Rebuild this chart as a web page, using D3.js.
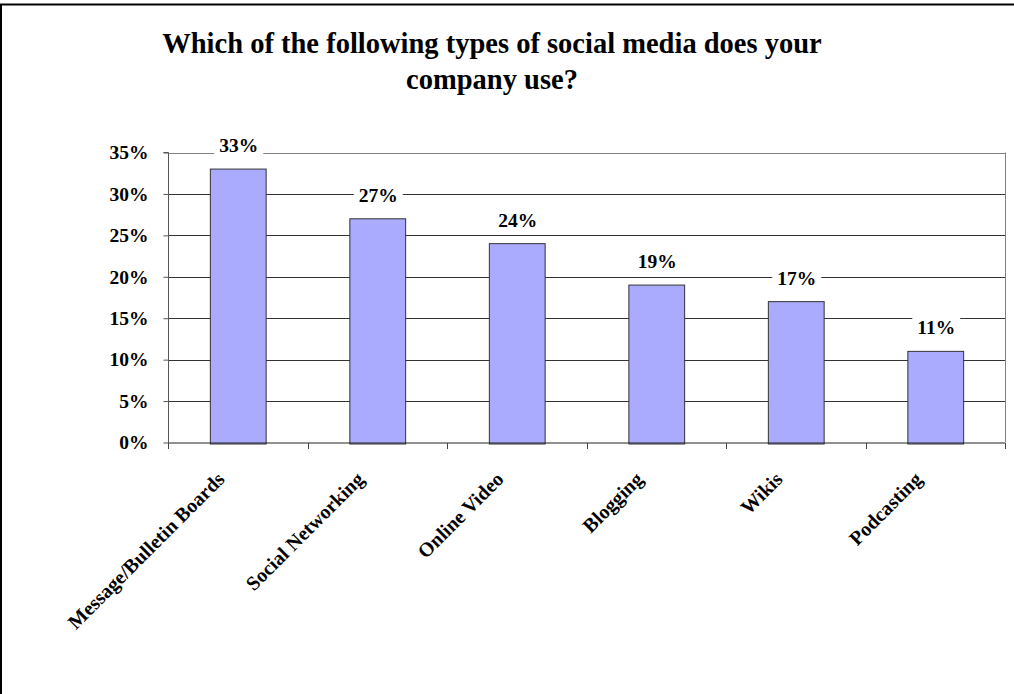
<!DOCTYPE html>
<html>
<head>
<meta charset="utf-8">
<script src="https://cdn.jsdelivr.net/npm/d3@7"></script>
<style>
  html, body { margin: 0; padding: 0; background: #fff; }
  svg { display: block; }
  text { font-family: "Liberation Serif", "Times New Roman", serif; font-weight: bold; fill: #000; }
</style>
</head>
<body>
<svg id="chart" width="1014" height="694"></svg>
<script>
const categories = ["Message/Bulletin Boards", "Social Networking", "Online Video", "Blogging", "Wikis", "Podcasting"];
const values = [33, 27, 24, 19, 17, 11];
const yTicks = [0, 5, 10, 15, 20, 25, 30, 35];
const titleLines = ["Which of the following types of social media does your", "company use?"];

const W = 1014, H = 694;
const svg = d3.select("#chart");
const m = { left: 168, right: 1005, top: 152.5, bottom: 442.5 };

// outer frame (top and left edges visible)
svg.append("line").attr("x1", 0).attr("x2", W).attr("y1", 4.5).attr("y2", 4.5)
  .attr("stroke", "#000").attr("stroke-width", 2);
svg.append("line").attr("x1", 1).attr("x2", 1).attr("y1", 4).attr("y2", H)
  .attr("stroke", "#000").attr("stroke-width", 2);

// title
const title = svg.append("text").attr("text-anchor", "middle").style("font-size", "28.5px");
titleLines.forEach((t, i) => {
  title.append("tspan").attr("x", 492).attr("y", 53 + i * 36).text(t);
});

const x = d3.scaleBand().domain(categories).range([m.left, m.right]).paddingInner(0).paddingOuter(0);
const y = d3.scaleLinear().domain([0, 35]).range([m.bottom, m.top]);

// gridlines
svg.append("g").selectAll("line").data(yTicks.filter(d => d > 0)).join("line")
  .attr("x1", m.left).attr("x2", m.right)
  .attr("y1", d => Math.round(y(d)) + 0.5).attr("y2", d => Math.round(y(d)) + 0.5)
  .attr("stroke", d => d === 35 ? "#808080" : "#333").attr("stroke-width", 1);

// plot area right border
svg.append("line").attr("x1", m.right + 0.5).attr("x2", m.right + 0.5)
  .attr("y1", m.top).attr("y2", m.bottom).attr("stroke", "#808080");

// y axis
const yAxis = d3.axisLeft(y).tickValues(yTicks).tickSize(5).tickPadding(15).tickFormat(d => d + "%");
const gy = svg.append("g").attr("transform", `translate(${m.left + 0.5},0)`).call(yAxis);
gy.select(".domain").attr("stroke", "#555").attr("d", `M-5,${m.top}H0V${m.bottom}`);
gy.selectAll(".tick line").attr("stroke", "#555");
gy.selectAll(".tick text").style("font-size", "19.5px").style("font-family", '"Liberation Serif", "Times New Roman", serif').style("font-weight", "bold").attr("fill", "#000");

// bars
svg.append("g").selectAll("rect").data(values).join("rect")
  .attr("x", (d, i) => x(categories[i]) + x.bandwidth() * 0.3 + 0.5)
  .attr("width", x.bandwidth() * 0.4)
  .attr("y", d => y(d))
  .attr("height", d => y(0) - y(d) + 1.5)
  .attr("fill", "#aaaaff").attr("stroke", "#333").attr("stroke-width", 1);

// x axis
const xAxis = d3.axisBottom(x).tickSize(0).tickFormat("");
const gx = svg.append("g").attr("transform", `translate(0,${m.bottom + 0.5})`).call(xAxis);
gx.select(".domain").attr("stroke", "#222").attr("d", `M${m.left},0H${m.right}`);
gx.selectAll(".tick").remove();
const bounds = categories.map(c => x(c)).concat([m.right]);
gx.append("g").selectAll("line").data(bounds).join("line")
  .attr("x1", d => Math.round(d) + 0.5).attr("x2", d => Math.round(d) + 0.5)
  .attr("y1", 0).attr("y2", 6).attr("stroke", "#444");

// category labels
svg.append("g").selectAll("text").data(categories).join("text")
  .attr("transform", d => `translate(${x(d) + x.bandwidth() / 2 - 12},${m.bottom + 38}) rotate(-45)`)
  .attr("text-anchor", "end")
  .style("font-size", "20px")
  .text(d => d);

// data labels with white background
const lab = svg.append("g").selectAll("g").data(values).join("g")
  .attr("transform", (d, i) => `translate(${x(categories[i]) + x.bandwidth() / 2 + 1},${y(d) - 17})`);
lab.append("rect").attr("fill", "#fff");
lab.append("text").attr("text-anchor", "middle").style("font-size", "19.5px").text(d => d + "%");
lab.each(function () {
  const g = d3.select(this);
  const bb = g.select("text").node().getBBox();
  g.select("rect").attr("x", bb.x - 5).attr("y", bb.y - 1).attr("width", bb.width + 10).attr("height", bb.height + 2);
});
</script>
</body>
</html>
